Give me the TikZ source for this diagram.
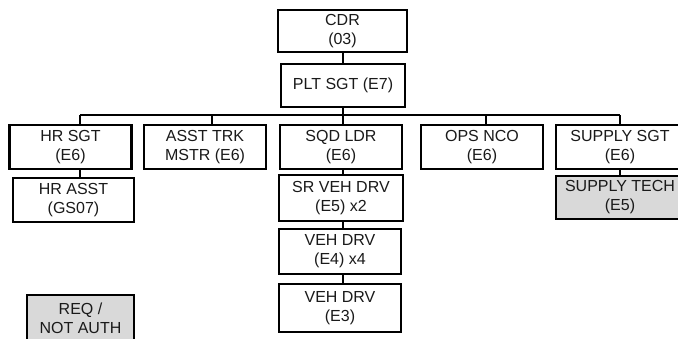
\documentclass[tikz,border=0pt]{standalone}
\usepackage{fontspec}
\setmainfont{Liberation Sans}
\definecolor{boxgray}{HTML}{D9D9D9}
\definecolor{txt}{HTML}{1A1A1A}
\begin{document}
\begin{tikzpicture}[x=1pt,y=-1pt,
  box/.style={draw=black, line width=2.2pt, fill=white, align=center, inner sep=0pt,
    text=txt, font=\fontsize{16}{19}\selectfont, minimum width=122pt, minimum height=44pt},
  graybox/.style={box, fill=boxgray},
  conn/.style={draw=black, line width=1.6pt}]
\useasboundingbox (0,0) rectangle (678,338);
% nodes
\node[box, minimum width=129pt, minimum height=42pt] (cdr) at (342.5,31) {CDR\\(03)};
\node[box, minimum width=124pt, minimum height=43pt] (plt) at (343,85.5) {PLT SGT (E7)};
\node[box, minimum height=44pt] (hrsgt) at (70.5,147) {HR SGT\\(E6)};
\node[box, minimum height=44pt] (asst) at (205,147) {ASST TRK\\MSTR (E6)};
\node[box, minimum height=44pt] (sqd) at (341,147) {SQD LDR\\(E6)};
\node[box, minimum height=44pt] (ops) at (482,147) {OPS NCO\\(E6)};
\node[box, minimum width=128pt, minimum height=44pt] (supsgt) at (620,147) {SUPPLY SGT\\(E6)};
\node[box, minimum width=121pt, minimum height=44pt] (hrasst) at (73.5,200) {HR ASST\\(GS07)};
\node[box, minimum width=124pt, minimum height=46pt] (srveh) at (341,198) {SR VEH DRV\\(E5) x2};
\node[box, minimum width=122pt, minimum height=45pt] (veh4) at (340,251.5) {VEH DRV\\(E4) x4};
\node[box, minimum width=122pt, minimum height=48pt] (veh3) at (340,308) {VEH DRV\\(E3)};
\node[graybox, minimum width=128pt, minimum height=43pt] (suptech) at (620,197.5) {SUPPLY TECH\\(E5)};
\node[graybox, minimum width=107pt, minimum height=46pt] (req) at (80.5,318) {REQ /\\NOT AUTH};
% bus coordinates
\coordinate (b1) at (80,115);
\coordinate (b2) at (212,115);
\coordinate (b3) at (343,115);
\coordinate (b4) at (486,115);
\coordinate (b5) at (620,115);
% connectors
\draw[conn] (cdr.south -| b3) -- (plt.north -| b3);
\draw[conn] (plt.south -| b3) -- (b3);
\draw[conn] (b1) -- (b5);
\draw[conn] (b1) -- (hrsgt.north -| b1);
\draw[conn] (b2) -- (asst.north -| b2);
\draw[conn] (b3) -- (sqd.north -| b3);
\draw[conn] (b4) -- (ops.north -| b4);
\draw[conn] (b5) -- (supsgt.north -| b5);
\draw[conn] (hrsgt.south -| b1) -- (hrasst.north -| b1);
\draw[conn] (sqd.south -| b3) -- (srveh.north -| b3);
\draw[conn] (srveh.south -| b3) -- (veh4.north -| b3);
\draw[conn] (veh4.south -| b3) -- (veh3.north -| b3);
\draw[conn] (supsgt.south -| b5) -- (suptech.north -| b5);
\end{tikzpicture}
\end{document}
